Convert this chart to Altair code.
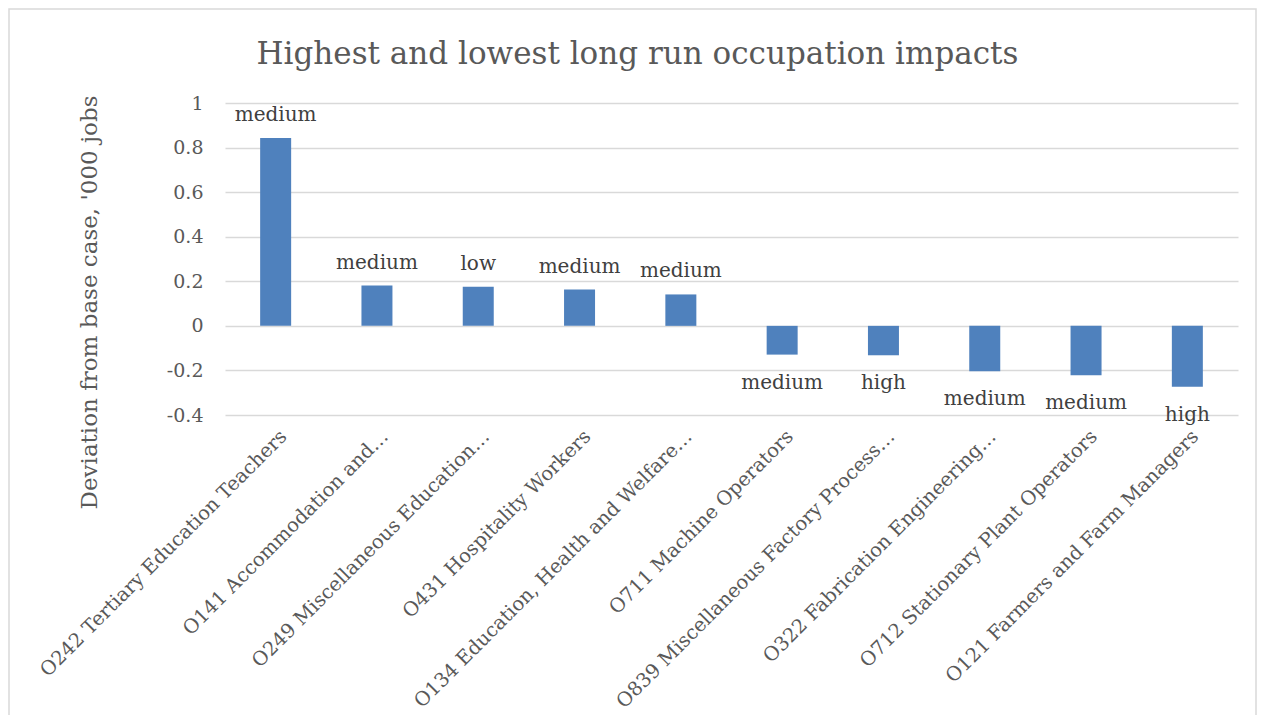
import altair as alt
import pandas as pd

categories = [
    "O242 Tertiary Education Teachers",
    "O141 Accommodation and…",
    "O249 Miscellaneous Education…",
    "O431 Hospitality Workers",
    "O134 Education, Health and Welfare…",
    "O711 Machine Operators",
    "O839 Miscellaneous Factory Process…",
    "O322 Fabrication Engineering…",
    "O712 Stationary Plant Operators",
    "O121 Farmers and Farm Managers",
]
values = [0.843, 0.181, 0.176, 0.163, 0.141, -0.129, -0.132, -0.204, -0.222, -0.273]
skill = ["medium", "medium", "low", "medium", "medium", "medium", "high", "medium", "medium", "high"]
y_ticks = [-0.4, -0.2, 0, 0.2, 0.4, 0.6, 0.8, 1]

df = pd.DataFrame({"occupation": categories, "value": values, "skill": skill})

FONT = "DejaVu Serif"
W, H = 1013, 312
PAD_L, PAD_T, PAD_R, PAD_B = 217, 95, 21, 300

x_enc = alt.X(
    "occupation:N",
    sort=categories,
    scale=alt.Scale(paddingInner=0.694, paddingOuter=0.347),
    axis=alt.Axis(
        title=None,
        labelAngle=-45,
        labelAlign="right",
        labelBaseline="middle",
        labelPadding=18,
        labelOffset=8,
        labelFont=FONT,
        labelFontSize=19.5,
        labelColor="#595959",
        labelLimit=500,
        ticks=False,
        domain=False,
        grid=False,
        labelOverlap=False,
    ),
)

y_scale = alt.Scale(domain=[-0.4, 1], nice=False, zero=False)

bars = alt.Chart(df).mark_bar(color="#4f81bd").encode(
    x=x_enc,
    y=alt.Y(
        "value:Q",
        scale=y_scale,
        axis=alt.Axis(
            title="Deviation from base case, '000 jobs",
            values=y_ticks,
            labelExpr="datum.value == 0 ? '0' : (datum.value < 0 ? '-' + format(-datum.value, '~g') : format(datum.value, '~g'))",
            labelFont=FONT,
            labelFontSize=19,
            labelColor="#595959",
            labelPadding=22,
            ticks=False,
            domain=False,
            gridColor="#d9d9d9",
            gridWidth=1.5,
            titleFont=FONT,
            titleFontSize=23,
            titleFontWeight="normal",
            titleColor="#595959",
            titleAngle=-90,
            titleX=-124,
            titleY=199,
            titleAlign="center",
            titleBaseline="bottom",
        ),
    ),
    y2=alt.datum(0),
)

pos_labels = alt.Chart(df).transform_filter("datum.value >= 0").mark_text(
    font=FONT, fontSize=20, color="#404040", baseline="alphabetic", dy=-17
).encode(x=alt.X("occupation:N", sort=categories), y=alt.Y("value:Q", scale=y_scale), text="skill:N")

neg_labels = alt.Chart(df).transform_filter("datum.value < 0").mark_text(
    font=FONT, fontSize=20, color="#404040", baseline="alphabetic", dy=34
).encode(x=alt.X("occupation:N", sort=categories), y=alt.Y("value:Q", scale=y_scale), text="skill:N")

frame = alt.Chart(pd.DataFrame({"f": [0]})).mark_rect(
    filled=False, stroke="#d9d9d9", strokeWidth=1.5, clip=False
).encode(
    x=alt.value(-216),
    x2=alt.value(W + PAD_R - 3),
    y=alt.value(-94),
    y2=alt.value(H + PAD_B + 40),
)

chart = alt.layer(frame, bars, pos_labels, neg_labels).properties(
    width=W,
    height=H,
    title=alt.TitleParams(
        "Highest and lowest long run occupation impacts",
        font=FONT,
        fontSize=31,
        fontWeight="normal",
        color="#595959",
        anchor="middle",
        baseline="alphabetic",
        dx=-94,
        offset=0,
        dy=87,
    ),
    autosize=alt.AutoSizeParams(type="none"),
    padding={"left": PAD_L, "top": PAD_T, "right": PAD_R, "bottom": PAD_B},
).configure(background="white", view=alt.ViewConfig(stroke=None))

chart.save("out.html", embed_options={"renderer": "svg", "actions": False})
